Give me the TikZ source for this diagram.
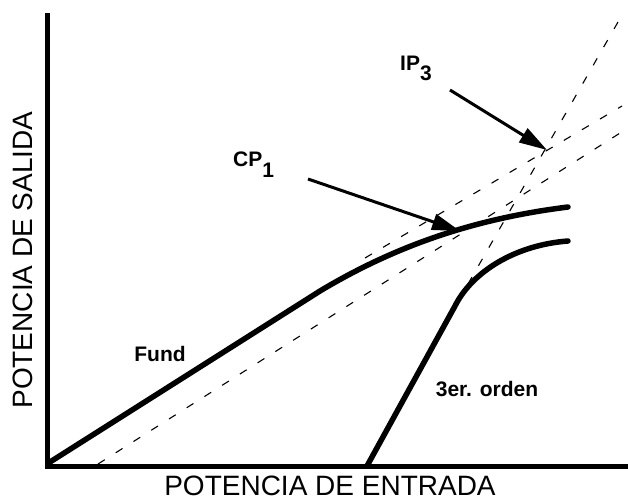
\documentclass[tikz,border=0pt]{standalone}
\usepackage{fontspec}
\setmainfont{Liberation Sans}
\usetikzlibrary{arrows.meta,calc}
\newcommand{\axfont}{\fontsize{28}{30}\selectfont}
\newcommand{\lbfont}{\fontsize{21}{23}\selectfont\bfseries}

\begin{document}
\begin{tikzpicture}[x=1pt,y=-1pt,
    axis/.style={line width=5pt,line join=miter},
    curve/.style={line width=5.5pt,line cap=round,line join=round},
    asym/.style={line width=1.1pt,dash pattern=on 8pt off 13pt},
    >={Triangle[length=28pt,width=16pt]}]
    \useasboundingbox (0,0) rectangle (628,501);

    \coordinate (top) at (47,13);
    \coordinate (o) at (47,466);
    \coordinate (right) at (628,466);

    \node[rotate=90,inner sep=0] (ylbl) at (23,260) {\axfont POTENCIA DE SALIDA};
    \node[inner sep=0] (xlbl) at (330,486) {\axfont POTENCIA DE ENTRADA};
    \node[inner sep=0] (fund) at (160,353.5) {\lbfont Fund};
    \node[inner sep=0] (tercer) at (487,389.5) {\lbfont 3er. orden};
    \node[inner sep=0,anchor=base west] (cp) at (233,166) {\lbfont CP\raisebox{-11pt}{1}};
    \node[inner sep=0,anchor=base west] (ip) at (400,70) {\lbfont IP\raisebox{-10pt}{3}};

    \coordinate (cpt) at (460,231);
    \coordinate (ipt) at (547,150);

    \draw[asym] (98,464) -- (628,128);
    \draw[asym] (365,258) -- (622,106);
    \draw[asym] (468,284) -- (618,22);

    \draw[curve] (50,462) -- (320,291) .. controls (400,243) and (480,218) .. (568,207);
    \draw[curve] (367,466) -- (455,306) .. controls (472,272) and (515,245) .. (568,241);

    \draw[axis] (top) -- (o) -- (right);

    \draw[->,line width=3pt] (308,179) -- (cpt);
    \draw[->,line width=3pt] (450,90) -- (ipt);
\end{tikzpicture}
\end{document}
